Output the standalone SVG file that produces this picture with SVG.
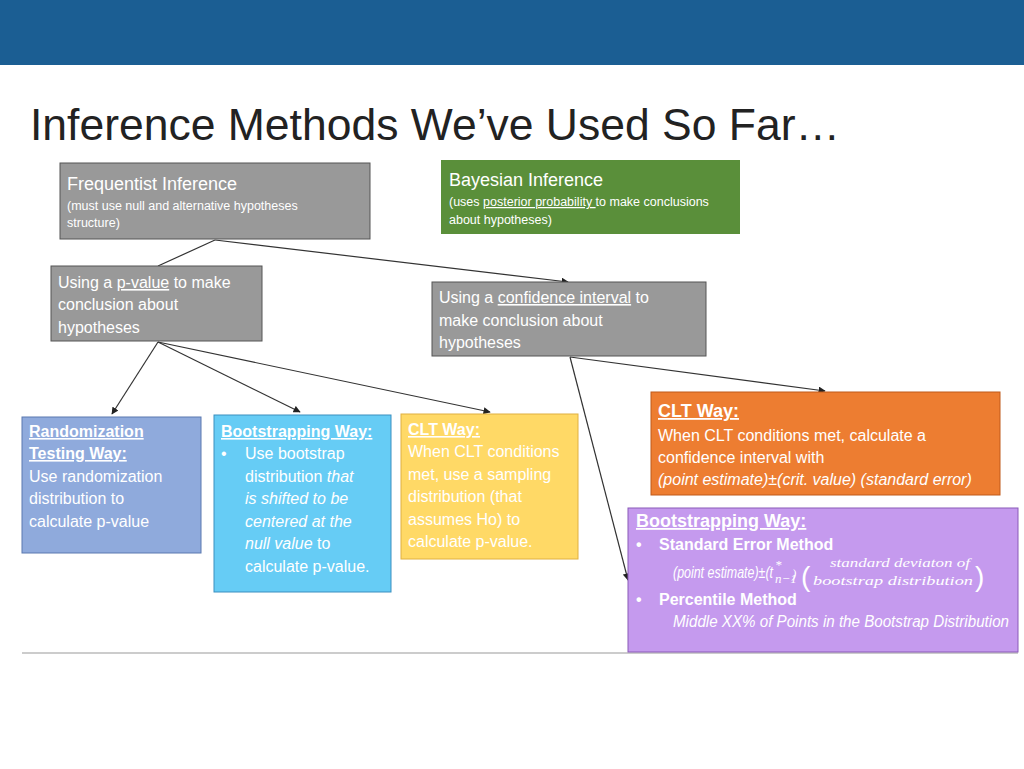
<svg xmlns="http://www.w3.org/2000/svg" width="1024" height="769" viewBox="0 0 1024 769">
<defs>
<marker id="ah" viewBox="0 0 10 10" refX="9" refY="5" markerWidth="6" markerHeight="6" orient="auto"><path d="M0,0L10,5L0,10z" fill="#222"/></marker>
<style>
text{font-family:"Liberation Sans","Noto Sans",sans-serif;}
.w{fill:#fff;font-size:16px}
.s{fill:#fff;font-size:12.5px}
.h{fill:#fff;font-size:18px}
.b{font-weight:bold;text-decoration:underline}
.i{font-style:italic}
.m{fill:#fff;font-style:italic;font-family:"Liberation Serif",serif;font-size:13px}
.box{stroke:#555;stroke-width:1}
.c line{stroke:#333;stroke-width:1.2}
</style>
</defs>
<rect width="1024" height="769" fill="#fff"/>
<rect width="1024" height="65" fill="#1b5e93"/>
<text x="30" y="140" font-size="44" fill="#222" textLength="810" lengthAdjust="spacingAndGlyphs">Inference Methods We’ve Used So Far…</text>
<line x1="22" y1="653" x2="1018" y2="653" stroke="#ccc" stroke-width="2"/>
<g class="c">
<line x1="215" y1="240" x2="158" y2="266"/>
<line x1="215" y1="240" x2="568" y2="282" marker-end="url(#ah)"/>
<line x1="158" y1="342" x2="112" y2="414" marker-end="url(#ah)"/>
<line x1="158" y1="342" x2="300" y2="412" marker-end="url(#ah)"/>
<line x1="158" y1="342" x2="490" y2="412" marker-end="url(#ah)"/>
<line x1="570" y1="357" x2="628" y2="580" marker-end="url(#ah)"/>
<line x1="570" y1="357" x2="825" y2="391" marker-end="url(#ah)"/>
</g>
<g id="freq"><rect class="box" x="60" y="163" width="310" height="76" fill="#999"/>
<text class="h" x="67" y="190">Frequentist Inference</text>
<text class="s" x="67" y="210">(must use null and alternative hypotheses</text>
<text class="s" x="67" y="227">structure)</text></g>
<g id="bayes"><rect x="441" y="160" width="299" height="74" fill="#5a8f3a"/>
<text class="h" x="449" y="186">Bayesian Inference</text>
<text class="s" x="449" y="206">(uses <tspan text-decoration="underline">posterior probability </tspan>to make conclusions</text>
<text class="s" x="449" y="224">about hypotheses)</text></g>
<g id="pval"><rect class="box" x="51" y="266" width="211" height="75" fill="#999"/>
<text class="w" x="58" y="288">Using a <tspan text-decoration="underline">p-value</tspan> to make</text>
<text class="w" x="58" y="310">conclusion about</text>
<text class="w" x="58" y="333">hypotheses</text></g>
<g id="ci"><rect class="box" x="432" y="282" width="274" height="74" fill="#999"/>
<text class="w" x="439" y="303">Using a <tspan text-decoration="underline">confidence interval</tspan> to</text>
<text class="w" x="439" y="326">make conclusion about</text>
<text class="w" x="439" y="348">hypotheses</text></g>
<g id="rand"><rect x="22" y="417" width="179" height="136" fill="#8faadc" stroke="#5a78b0"/>
<text class="w b" x="29" y="437">Randomization</text>
<text class="w b" x="29" y="459">Testing Way:</text>
<text class="w" x="29" y="482">Use randomization</text>
<text class="w" x="29" y="504">distribution to</text>
<text class="w" x="29" y="527">calculate p-value</text></g>
<g id="boot1"><rect x="214" y="415" width="177" height="177" fill="#66ccf5" stroke="#3a8fc0"/>
<text class="w b" x="221" y="437">Bootstrapping Way:</text>
<text class="w" x="221" y="459">•</text>
<text class="w" x="245" y="459">Use bootstrap</text>
<text class="w" x="245" y="482">distribution <tspan class="i">that</tspan></text>
<text class="w i" x="245" y="504">is shifted to be</text>
<text class="w i" x="245" y="527">centered at the</text>
<text class="w" x="245" y="549"><tspan class="i">null value</tspan> to</text>
<text class="w" x="245" y="572">calculate p-value.</text></g>
<g id="clt1"><rect x="401" y="414" width="177" height="145" fill="#ffd966" stroke="#e0b040"/>
<text class="w b" x="408" y="435">CLT Way:</text>
<text class="w" x="408" y="457">When CLT conditions</text>
<text class="w" x="408" y="480">met, use a sampling</text>
<text class="w" x="408" y="502">distribution (that</text>
<text class="w" x="408" y="525">assumes Ho) to</text>
<text class="w" x="408" y="547">calculate p-value.</text></g>
<g id="clt2"><rect x="651" y="392" width="349" height="103" fill="#ed7d31" stroke="#c05a1a"/>
<text class="h b" x="658" y="417">CLT Way:</text>
<text class="w" x="658" y="441">When CLT conditions met, calculate a</text>
<text class="w" x="658" y="463">confidence interval with</text>
<text class="w i" x="658" y="485" font-size="14">(point estimate)±(crit. value) (standard error)</text></g>
<g id="boot2"><rect x="628" y="508" width="390" height="144" fill="#c59aee" stroke="#8a5ab8"/>
<text class="h b" x="636" y="527">Bootstrapping Way:</text>
<text class="w" x="636" y="550" font-weight="bold">•</text>
<text class="w" x="659" y="550" font-weight="bold">Standard Error Method</text>
<text class="w i" x="673" y="578" font-size="12.5" textLength="100" lengthAdjust="spacingAndGlyphs">(point estimate)±(t</text>
<text class="m" x="775" y="569" font-size="9">*</text>
<text class="m" x="775" y="583" font-size="8">n−1</text>
<text class="m" x="792" y="578">)</text>
<text x="801" y="586" font-size="28" fill="#fff" font-family="Liberation Serif,serif">(</text>
<text class="m" x="830" y="567" textLength="140" lengthAdjust="spacingAndGlyphs">standard deviaton of</text>
<text class="m" x="813" y="585" textLength="160" lengthAdjust="spacingAndGlyphs">bootstrap distribution</text>
<text x="975" y="586" font-size="28" fill="#fff" font-family="Liberation Serif,serif">)</text>
<text class="w" x="636" y="605" font-weight="bold">•</text>
<text class="w" x="659" y="605" font-weight="bold">Percentile Method</text>
<text class="w i" x="673" y="627" font-size="15" textLength="336" lengthAdjust="spacingAndGlyphs">Middle XX% of Points in the Bootstrap Distribution</text></g>
</svg>
